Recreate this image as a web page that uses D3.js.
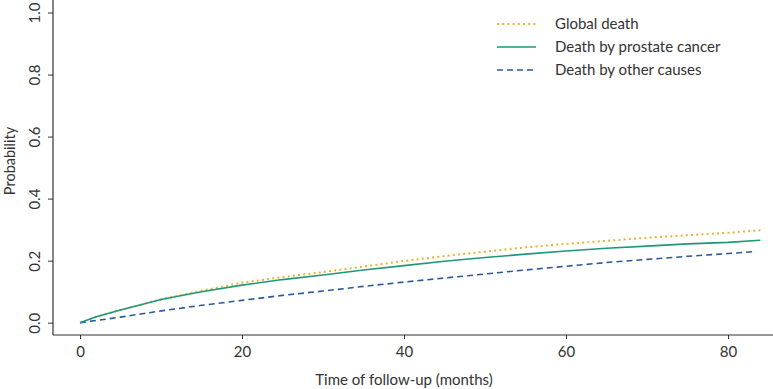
<!DOCTYPE html>
<html><head><meta charset="utf-8">
<script src="https://cdn.jsdelivr.net/npm/d3@7"></script>
<style>body{margin:0;background:#fff}svg{display:block;font-family:Lato,"Open Sans",sans-serif}</style>
</head><body><svg id="c" width="773" height="389"></svg>
<script>
const months = [0,2,5,10,15,20,25,30,35,40,45,50,55,60,65,70,75,80,84];
const globalDeath = [0,0.019,0.041,0.075,0.103,0.129,0.147,0.163,0.181,0.199,0.215,0.229,0.243,0.254,0.264,0.274,0.282,0.290,0.298];
const prostateDeath = [0,0.019,0.041,0.075,0.100,0.121,0.139,0.154,0.170,0.184,0.198,0.210,0.221,0.231,0.240,0.247,0.254,0.259,0.266];
const otherMonths = [0,2,5,10,15,20,25,30,35,40,45,50,55,60,65,70,75,80,83.2];
const otherDeath = [0,0.007,0.018,0.038,0.056,0.072,0.088,0.102,0.117,0.131,0.144,0.157,0.170,0.182,0.194,0.204,0.214,0.223,0.229];
const xTicks = [0,20,40,60,80];
const yTicks = [0,0.2,0.4,0.6,0.8,1.0];
const seriesNames = ["Global death","Death by prostate cancer","Death by other causes"];

const svg = d3.select("#c");
const x = d3.scaleLinear().domain([0,80]).range([80,728]);
const y = d3.scaleLinear().domain([0,1]).range([322.7,12.5]);

// axes
const xAxis = svg.append("g").attr("transform","translate(0,335)")
  .call(d3.axisBottom(x).tickValues(xTicks).tickFormat(d3.format("d")).tickSize(4).tickSizeOuter(0));
xAxis.select(".domain").attr("d","M53,0H773");
const yAxis = svg.append("g").attr("transform","translate(53,0)")
  .call(d3.axisLeft(y).tickValues(yTicks).tickFormat(d3.format(".1f")).tickSize(5).tickSizeOuter(0));
yAxis.select(".domain").attr("d","M0,0V335");
svg.selectAll(".domain").attr("stroke","#333").attr("stroke-width",1.2);
svg.selectAll(".tick line").attr("stroke","#333");
xAxis.selectAll(".tick text").attr("font-size",15).attr("fill","#333").attr("font-family","Lato").attr("dy","1.0em");
yAxis.selectAll(".tick text")
  .attr("font-size",15).attr("fill","#333").attr("font-family","Lato")
  .attr("text-anchor","middle").attr("transform","rotate(-90)")
  .attr("x",0).attr("y",-13).attr("dy",0);

svg.append("text").attr("x",404).attr("y",385).attr("text-anchor","middle")
  .attr("font-size",15).attr("fill","#333").text("Time of follow-up (months)");
svg.append("text").attr("transform","translate(15,161) rotate(-90)").attr("text-anchor","middle")
  .attr("font-size",14.5).attr("fill","#333").text("Probability");

const colors = ["#EDB232","#1E9877","#2B5A9A"];
const dashes = ["2,3.2",null,"6,4"];
const widths = [2,1.6,1.6];
const line = d3.line().x(d=>x(d[0])).y(d=>y(d[1]));
const data = [
  months.map((m,i)=>[m,globalDeath[i]]),
  months.map((m,i)=>[m,prostateDeath[i]]),
  otherMonths.map((m,i)=>[m,otherDeath[i]])
];
[2,0,1].forEach(i=>{
  svg.append("path").attr("d",line(data[i])).attr("fill","none")
    .attr("stroke",colors[i]).attr("stroke-width",widths[i])
    .attr("stroke-dasharray",dashes[i]);
});

// legend
const legY = [24,47,70];
seriesNames.forEach((n,i)=>{
  svg.append("line").attr("x1",497).attr("x2",536).attr("y1",legY[i]).attr("y2",legY[i])
    .attr("stroke",colors[i]).attr("stroke-width",widths[i]).attr("stroke-dasharray",dashes[i]);
  svg.append("text").attr("x",555).attr("y",legY[i]).attr("dy","0.35em")
    .attr("font-size",15).attr("fill","#333").text(n);
});
</script></body></html>
